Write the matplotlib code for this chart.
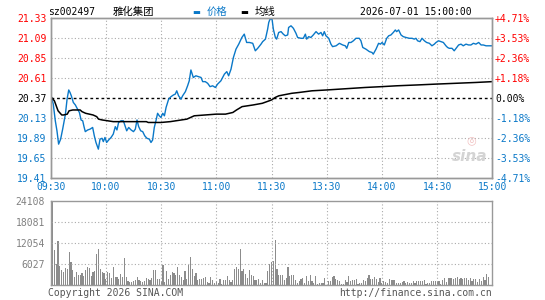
import matplotlib
matplotlib.use("Agg")
import matplotlib.pyplot as plt

# ---- data ----
code = "sz002497"
name = "雅化集团"
stamp = "2026-07-01 15:00:00"
prev_close = 20.37

price_levels = [19.41, 19.65, 19.89, 20.13, 20.37, 20.61, 20.85, 21.09, 21.33]
pct_labels = ["-4.71%", "-3.53%", "-2.36%", "-1.18%", "0.00%",
              "+1.18%", "+2.36%", "+3.53%", "+4.71%"]
time_ticks = [0, 30, 60, 90, 120, 150, 180, 210, 240]
time_labels = ["09:30", "10:00", "10:30", "11:00", "11:30",
               "13:30", "14:00", "14:30", "15:00"]
vol_levels = [6027, 12054, 18081, 24108]

# minutes since open (lunch break removed) and price
price_min = [
    0.2, 1.4, 2.5, 3.4, 4.3, 5.4, 6.5, 8.0, 8.9, 9.8,
    10.5, 11.2, 12.3, 13.4, 14.1, 15.6, 16.5, 17.4, 18.1, 18.8,
    20.1, 21.4, 22.8, 23.7, 24.6, 25.9, 26.8, 27.9, 28.6, 29.5,
    30.4, 31.5, 32.8, 34.0, 35.1, 36.0, 36.9, 38.2, 39.5, 40.4,
    41.3, 42.4, 43.7, 45.0, 46.0, 46.9, 47.8, 48.9, 50.0, 51.1,
    52.3, 53.6, 54.5, 55.4, 56.3, 57.2, 58.1, 59.0, 59.9, 60.9,
    61.8, 62.7, 64.1, 65.4, 66.7, 67.7, 68.5, 69.5, 70.8, 71.7,
    73.2, 74.4, 75.3, 76.2, 77.5, 78.9, 80.4, 81.7, 82.6, 84.0,
    85.3, 86.6, 88.0, 89.5, 90.7, 92.5, 94.4, 95.7, 96.7, 98.0,
    99.3, 100.7, 102.2, 103.9, 105.2, 106.5, 108.0, 109.8, 111.2, 112.5,
    114.3, 115.2, 116.7, 117.9, 118.5, 119.2, 120.3, 121.0, 122.1, 122.8,
    123.9, 125.2, 126.4, 127.5, 128.8, 129.3, 130.6, 131.9, 133.3, 134.2,
    136.0, 137.3, 138.4, 139.1, 140.2, 141.4, 142.7, 144.2, 145.6, 146.9,
    147.8, 148.7, 149.6, 151.1, 152.3, 153.2, 155.1, 156.9, 158.7, 160.1,
    160.9, 162.0, 163.2, 164.5, 165.9, 167.7, 168.6, 169.6, 171.3, 173.2,
    174.6, 175.3, 176.8, 178.2, 179.2, 180.1, 181.3, 182.6, 183.7, 184.9,
    186.2, 187.3, 188.0, 189.1, 190.4, 191.6, 193.1, 194.9, 196.4, 197.6,
    198.5, 199.4, 200.7, 201.8, 203.1, 204.3, 205.8, 207.2, 208.5, 209.4,
    210.8, 212.1, 213.4, 214.8, 215.7, 216.6, 218.1, 219.3, 220.3, 221.7,
    223.0, 224.2, 225.7, 227.1, 228.4, 229.7, 231.1, 232.6, 233.9, 235.1,
    236.6, 238.4, 240.0]
price = [
    20.40, 20.30, 20.10, 19.98, 19.82, 19.88, 20.00, 20.18, 20.36, 20.47,
    20.44, 20.40, 20.32, 20.29, 20.26, 20.20, 20.11, 20.10, 20.03, 19.97,
    19.99, 20.00, 20.02, 19.92, 19.84, 19.76, 19.88, 19.89, 19.85, 19.90,
    19.84, 19.87, 19.90, 19.94, 20.03, 19.99, 20.08, 20.10, 20.10, 20.04,
    19.98, 20.02, 19.99, 19.97, 20.00, 20.11, 20.03, 19.98, 19.97, 19.92,
    19.89, 19.88, 19.84, 19.87, 20.02, 20.10, 20.19, 20.16, 20.14, 20.19,
    20.16, 20.26, 20.36, 20.39, 20.41, 20.42, 20.46, 20.40, 20.36, 20.40,
    20.45, 20.52, 20.58, 20.71, 20.62, 20.64, 20.63, 20.62, 20.57, 20.57,
    20.55, 20.51, 20.52, 20.50, 20.54, 20.58, 20.66, 20.69, 20.64, 20.72,
    20.86, 20.96, 21.02, 21.10, 21.14, 21.04, 21.04, 21.03, 20.94, 20.97,
    21.02, 21.05, 21.08, 21.20, 21.28, 21.32, 21.32, 21.20, 21.10, 21.08,
    21.16, 21.17, 21.14, 21.12, 21.13, 21.22, 21.24, 21.21, 21.15, 21.10,
    21.09, 21.09, 21.14, 21.08, 21.11, 21.10, 21.13, 21.17, 21.14, 21.16,
    21.12, 21.17, 21.12, 21.09, 21.02, 20.99, 21.00, 21.03, 21.01, 21.00,
    20.97, 21.04, 21.04, 21.06, 21.09, 21.09, 21.06, 20.98, 20.96, 20.93,
    20.92, 20.90, 20.96, 21.03, 21.02, 21.04, 21.01, 21.09, 21.12, 21.13,
    21.16, 21.19, 21.17, 21.19, 21.13, 21.11, 21.10, 21.09, 21.09, 21.08,
    21.09, 21.06, 21.05, 21.09, 21.06, 21.04, 21.03, 21.00, 21.02, 21.04,
    21.06, 21.05, 21.04, 21.00, 20.98, 20.97, 20.97, 20.94, 20.97, 21.01,
    21.02, 21.00, 21.02, 21.01, 21.01, 21.03, 21.02, 21.04, 21.01, 21.01,
    21.00, 21.00, 21.00]

avg_min = [0, 2, 4, 6, 7, 9, 10, 12, 16, 17,
           19, 23, 25, 26, 28, 34, 41, 52, 53, 60,
           65, 68, 74, 78, 90, 95, 99, 101, 104, 110,
           115, 120, 122, 124, 131, 135, 142, 150, 157, 164,
           171, 180, 188, 199, 209, 220, 231, 240]
avg = [20.39, 20.34, 20.22, 20.17, 20.17, 20.18, 20.22, 20.23, 20.23, 20.21,
       20.19, 20.17, 20.15, 20.12, 20.11, 20.09, 20.09, 20.09, 20.08, 20.08,
       20.09, 20.10, 20.12, 20.16, 20.18, 20.18, 20.20, 20.23, 20.27, 20.29,
       20.31, 20.35, 20.38, 20.40, 20.43, 20.44, 20.46, 20.47, 20.48, 20.49,
       20.50, 20.51, 20.52, 20.53, 20.54, 20.55, 20.56, 20.57]

volume = [2900, 24108, 10050, 6200, 12630, 5550, 4300, 3830, 4980, 4590,
          9570, 6700, 4300, 2390, 3830, 2870, 2870, 3640, 2680, 4300,
          5260, 4980, 2680, 3830, 4020, 9000, 10430, 4590, 3830, 3640,
          1910, 3830, 3540, 2110, 5260, 2390, 2390, 1910, 3350, 2390,
          7850, 2390, 1150, 960, 960, 1150, 1440, 2390, 1440, 1150,
          960, 1150, 2110, 1720, 1440, 2110, 4300, 4300, 1720, 1720,
          1150, 5930, 960, 4020, 1910, 2870, 3830, 3640, 2870, 5260,
          3060, 2390, 1440, 4020, 1910, 5930, 8130, 4590, 2580, 3640,
          1440, 1720, 1720, 2110, 2390, 960, 770, 2390, 1440, 770,
          1150, 770, 1720, 480, 1440, 1440, 2680, 1440, 960, 1440,
          4590, 5170, 4790, 10340, 4210, 4590, 3350, 2110, 4300, 3060,
          2680, 1440, 1440, 1720, 770, 1440, 770, 770, 4020, 6220,
          6700, 6890, 12920, 4590, 2870, 2870, 2870, 1440, 2110, 5260,
          2680, 2870, 3060, 1440, 770, 1150, 1720, 2110, 770, 2680,
          1150, 2870, 1150, 770, 2680, 480, 770, 770, 770, 2110,
          190, 1150, 1150, 2390, 2680, 1720, 1440, 1150, 480, 480,
          1440, 960, 2580, 1150, 1440, 1440, 1720, 480, 770, 770,
          1440, 1150, 2110, 2870, 1720, 1720, 2390, 1910, 960, 2110,
          770, 1150, 960, 770, 1910, 1440, 1440, 1440, 770, 770,
          770, 960, 1150, 770, 960, 770, 770, 1150, 770, 1150,
          1150, 1150, 1150, 1440, 480, 770, 770, 1150, 1150, 1150,
          1150, 1150, 480, 1440, 2110, 960, 2110, 2110, 2110, 1720,
          2110, 2390, 1720, 2110, 1910, 2110, 2110, 1440, 2110, 1150,
          1720, 1910, 960, 1910, 1150, 2390, 1440, 3350, 2390]

# ---- styling ----
RED = "#ff0000"
BLUE = "#0a78c8"
GRID = "#aaaaaa"
FRAME = "#999999"
MONO = "DejaVu Sans Mono"
CJK = ["Noto Sans CJK SC", "DejaVu Sans"]

fig = plt.figure(figsize=(5.45, 3.0), dpi=100)
W, H = 545.0, 300.0
L, R = 50.7, 492.3

ax = fig.add_axes([L / W, 1 - 178.3 / H, (R - L) / W, 160 / H])
axv = fig.add_axes([L / W, 1 - 285.3 / H, (R - L) / W, 84 / H])

# price panel
ax.set_xlim(0, 240)
ax.set_ylim(price_levels[0], price_levels[-1])
for lv in price_levels[1:-1]:
    if lv == prev_close:
        ax.axhline(lv, color="black", lw=1, ls=(0, (2, 2)))
    else:
        ax.axhline(lv, color=GRID, lw=0.8, ls=(0, (1, 2)))
for t in time_ticks[1:-1]:
    ax.axvline(t, color=GRID, lw=0.8, ls=(0, (1, 2)))

ax.plot(price_min, price, color=BLUE, lw=1.0)
ax.plot(avg_min, avg, color="black", lw=1.1)

ax.set_yticks(price_levels)
ax.set_yticklabels([f"{v:.2f}" for v in price_levels], fontfamily=MONO, fontsize=7)
for lab, v in zip(ax.get_yticklabels(), price_levels):
    lab.set_color(RED if v > prev_close else ("black" if v == prev_close else BLUE))
ax.set_xticks(time_ticks)
ax.set_xticklabels(time_labels, fontfamily=MONO, fontsize=7, color=BLUE)
ax.tick_params(length=0, pad=3.2)
ax.tick_params(axis="x", pad=3.0)

axr = ax.twinx()
axr.set_ylim(price_levels[0], price_levels[-1])
axr.set_yticks(price_levels)
axr.set_yticklabels(pct_labels, fontfamily=MONO, fontsize=7)
for lab, v in zip(axr.get_yticklabels(), price_levels):
    lab.set_color(RED if v > prev_close else ("black" if v == prev_close else BLUE))
axr.tick_params(length=0, pad=2.0)

for a in (ax, axr, axv):
    for s in a.spines.values():
        s.set_color(FRAME)
        s.set_linewidth(1.0)

# sina watermark
ax.text(0.948, 0.135, "sina", transform=ax.transAxes, ha="center", va="center",
        fontsize=11, fontweight="bold", style="italic", color="#d4d4d4",
        family="DejaVu Sans")
ax.text(0.952, 0.235, "◎", transform=ax.transAxes, ha="center", va="center",
        fontsize=8, color="#f2c0c0", family="DejaVu Sans")

# volume panel
axv.set_xlim(0, 240)
axv.set_ylim(0, vol_levels[-1])
axv.bar(range(len(volume)), volume, width=0.62, color="#8c8c8c", linewidth=0)
for lv in vol_levels[:-1]:
    axv.axhline(lv, color=GRID, lw=0.8, ls=(0, (1, 2)))
for t in time_ticks[1:-1]:
    axv.axvline(t, color=GRID, lw=0.8, ls=(0, (1, 2)))
axv.set_yticks(vol_levels)
axv.set_yticklabels([str(v) for v in vol_levels], fontfamily=MONO, fontsize=7,
                    color="#808080")
axv.set_xticks([])
axv.tick_params(length=0, pad=4.0)

# header
fig.text(48 / W, 1 - 12 / H, code, fontfamily=MONO, fontsize=7, va="center")
fig.text(113 / W, 1 - 12 / H, name, family=CJK, fontsize=7.5, va="center")
fig.text(192 / W, 1 - 12 / H, "▬", family="DejaVu Sans", fontsize=6, va="center",
         color=BLUE)
fig.text(207 / W, 1 - 12 / H, "价格", family=CJK, fontsize=7.5, va="center",
         color=BLUE)
fig.text(240 / W, 1 - 12 / H, "▬", family="DejaVu Sans", fontsize=6, va="center",
         color="black")
fig.text(255 / W, 1 - 12 / H, "均线", family=CJK, fontsize=7.5, va="center")
fig.text(472 / W, 1 - 12 / H, stamp, fontfamily=MONO, fontsize=7, va="center",
         ha="right")

# footer
fig.text(48 / W, 1 - 293 / H, "Copyright 2026 SINA.COM", fontfamily=MONO,
         fontsize=7, va="center", color="#555555")
fig.text(R / W, 1 - 293 / H, "http://finance.sina.com.cn", fontfamily=MONO,
         fontsize=7, va="center", ha="right", color="#555555")

fig.savefig("out.png", dpi=100, facecolor="white")
plt.close(fig)
